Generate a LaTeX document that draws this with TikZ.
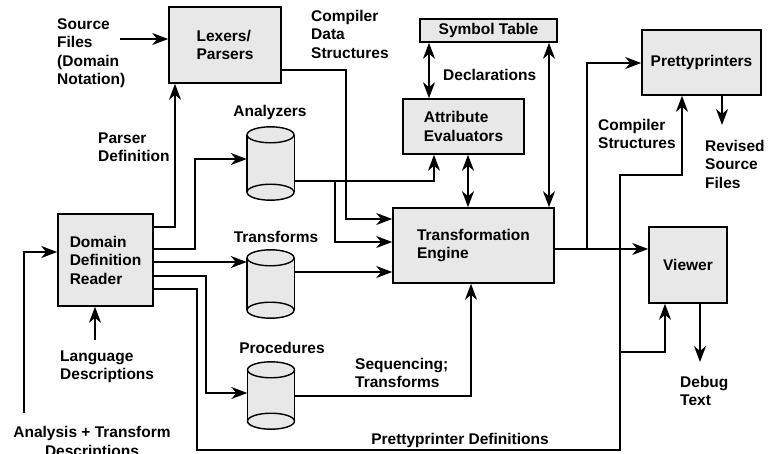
\documentclass[tikz,border=0pt]{standalone}
\usepackage{fontspec}
\setmainfont{Liberation Sans}
\usetikzlibrary{arrows.meta, positioning, calc}
\definecolor{boxgray}{HTML}{E8E8E8}
\newcommand{\lblfont}{\fontsize{15.5}{18.5}\selectfont\bfseries}
\tikzset{
    box/.style={rectangle, draw=black, line width=1.6pt, fill=boxgray, align=left, font=\lblfont, inner sep=0pt},
    drum/.style={rectangle, minimum width=47pt, inner sep=0pt},
    drumline/.style={draw=black, line width=1.4pt, fill=boxgray},
    lbl/.style={align=left, font=\lblfont, inner sep=0pt},
    arrow/.style={-{Stealth[length=16pt, width=12pt, inset=5pt]}, line width=1.6pt},
    dbarrow/.style={{Stealth[length=16pt, width=12pt, inset=5pt]}-{Stealth[length=16pt, width=12pt, inset=5pt]}, line width=1.6pt}
}

\begin{document}
\begin{tikzpicture}[x=1pt, y=-1pt]
    \useasboundingbox (0,0) rectangle (769,453);

    % main blocks
    \node[box, minimum width=112pt, minimum height=76pt] (lex) at (225,45) {Lexers/\\Parsers};
    \node[box, minimum width=137pt, minimum height=23pt] (symtab) at (488.5,30.5) {Symbol Table};
    \node[box, minimum width=121pt, minimum height=55pt] (attr) at (463.5,126.5) {Attribute\\Evaluators};
    \node[box, minimum width=161pt, minimum height=75pt] (engine) at (473.5,245.5) {Transformation\\Engine};
    \node[box, minimum width=95pt, minimum height=92pt] (reader) at (105.5,260) {Domain\\Definition\\Reader};
    \node[box, minimum width=119pt, minimum height=65pt] (pretty) at (701.5,62.5) {Prettyprinters};
    \node[box, minimum width=78pt, minimum height=76pt] (viewer) at (688,265) {Viewer};

    % stores
    \node[drum, minimum height=73pt] (analyzers) at (270.5,163.5) {};
    \node[drum, minimum height=68pt] (transforms) at (270.5,284) {};
    \node[drum, minimum height=67pt] (procs) at (271,395.5) {};
    \foreach \d in {analyzers, transforms, procs} {
        \fill[boxgray] ([yshift=-8pt]\d.north west) rectangle ([yshift=8pt]\d.south east);
        \draw[drumline] ([yshift=8pt]\d.south) ellipse[x radius=23.5pt, y radius=8pt];
        \draw[line width=1.4pt] ([yshift=-8pt]\d.north west) -- ([yshift=8pt]\d.south west)
            ([yshift=-8pt]\d.north east) -- ([yshift=8pt]\d.south east);
        \draw[drumline] ([yshift=-8pt]\d.north) ellipse[x radius=23.5pt, y radius=8pt];
    }

    % labels
    \node[lbl, anchor=west] (srcfiles) at (57,53) {Source\\Files\\(Domain\\Notation)};
    \node[lbl, anchor=west] (cds) at (311,34) {Compiler\\Data\\Structures};
    \node[lbl, anchor=west] (decl) at (443,75) {Declarations};
    \node[lbl, anchor=west] (pdef) at (98,147) {Parser\\Definition};
    \node[lbl] (analbl) at (270,112) {Analyzers};
    \node[lbl] (tralbl) at (276,237) {Transforms};
    \node[lbl] (proclbl) at (282,348) {Procedures};
    \node[lbl, anchor=west] (seq) at (355,373) {Sequencing;\\Transforms};
    \node[lbl, anchor=west] (langdesc) at (60,367) {Language\\Descriptions};
    \node[lbl, align=center] (atdesc) at (92,443) {Analysis + Transform\\Descriptions};
    \node[lbl] (ppdef) at (460,440) {Prettyprinter Definitions};
    \node[lbl, anchor=west] (cstruct) at (598,134) {Compiler\\Structures};
    \node[lbl, anchor=west] (revised) at (705,164) {Revised\\Source\\Files};
    \node[lbl, anchor=west] (debug) at (680,391) {Debug\\Text};

    % free ends and junctions
    \coordinate (srcout) at (120,39);
    \coordinate (langin) at (95,340);
    \coordinate (atdin) at (24,413);
    \coordinate (revout) at (722,125);
    \coordinate (dbgout) at (700,362);
    \coordinate (anaj) at (335,181);
    \coordinate (ppj) at (587,249);
    \coordinate (viewj) at (620,352);

    % connectors
    \draw[arrow] (srcout) -- (lex.west |- srcout);
    \draw[arrow] (langin) -- (reader.south -| langin);
    \draw[arrow] (atdin) |- (reader.west |- 0,252);
    \draw[arrow] (reader.east |- 0,227) -| (lex.south -| 175,0);
    \draw[arrow] (reader.east |- 0,249) -| (195,159) -- (analyzers.west |- 0,159);
    \draw[arrow] (reader.east |- 0,262) -- (transforms.west |- 0,262);
    \draw[arrow] (reader.east |- 0,276) -| (206,393) -- (procs.west |- 0,393);
    \draw[arrow] (reader.east |- 0,289) -| (197,450) -| (620,175) -| (pretty.south -| 682,0);
    \draw[arrow] (viewj) -| (viewer.south -| 665,0);
    \draw[arrow] (lex.east |- 0,70) -| (346,219) -- (engine.west |- 0,219);
    \draw[arrow] (analyzers.east |- anaj) -| (attr.south -| 434,0);
    \draw[arrow] (anaj) |- (engine.west |- 0,242);
    \draw[arrow] (transforms.east |- 0,272) -- (engine.west |- 0,272);
    \draw[arrow] (procs.east |- 0,396) -| (engine.south -| 471,0);
    \draw[arrow] (engine.east |- ppj) -- (viewer.west |- ppj);
    \draw[arrow] (ppj) |- (pretty.west |- 0,63);
    \draw[arrow] (pretty.south -| revout) -- (revout);
    \draw[arrow] (viewer.south -| dbgout) -- (dbgout);
    \draw[dbarrow] (symtab.south -| 429,0) -- (attr.north -| 429,0);
    \draw[dbarrow] (attr.south -| 468,0) -- (engine.north -| 468,0);
    \draw[dbarrow] (symtab.south -| 549,0) -- (engine.north -| 549,0);
\end{tikzpicture}
\end{document}
